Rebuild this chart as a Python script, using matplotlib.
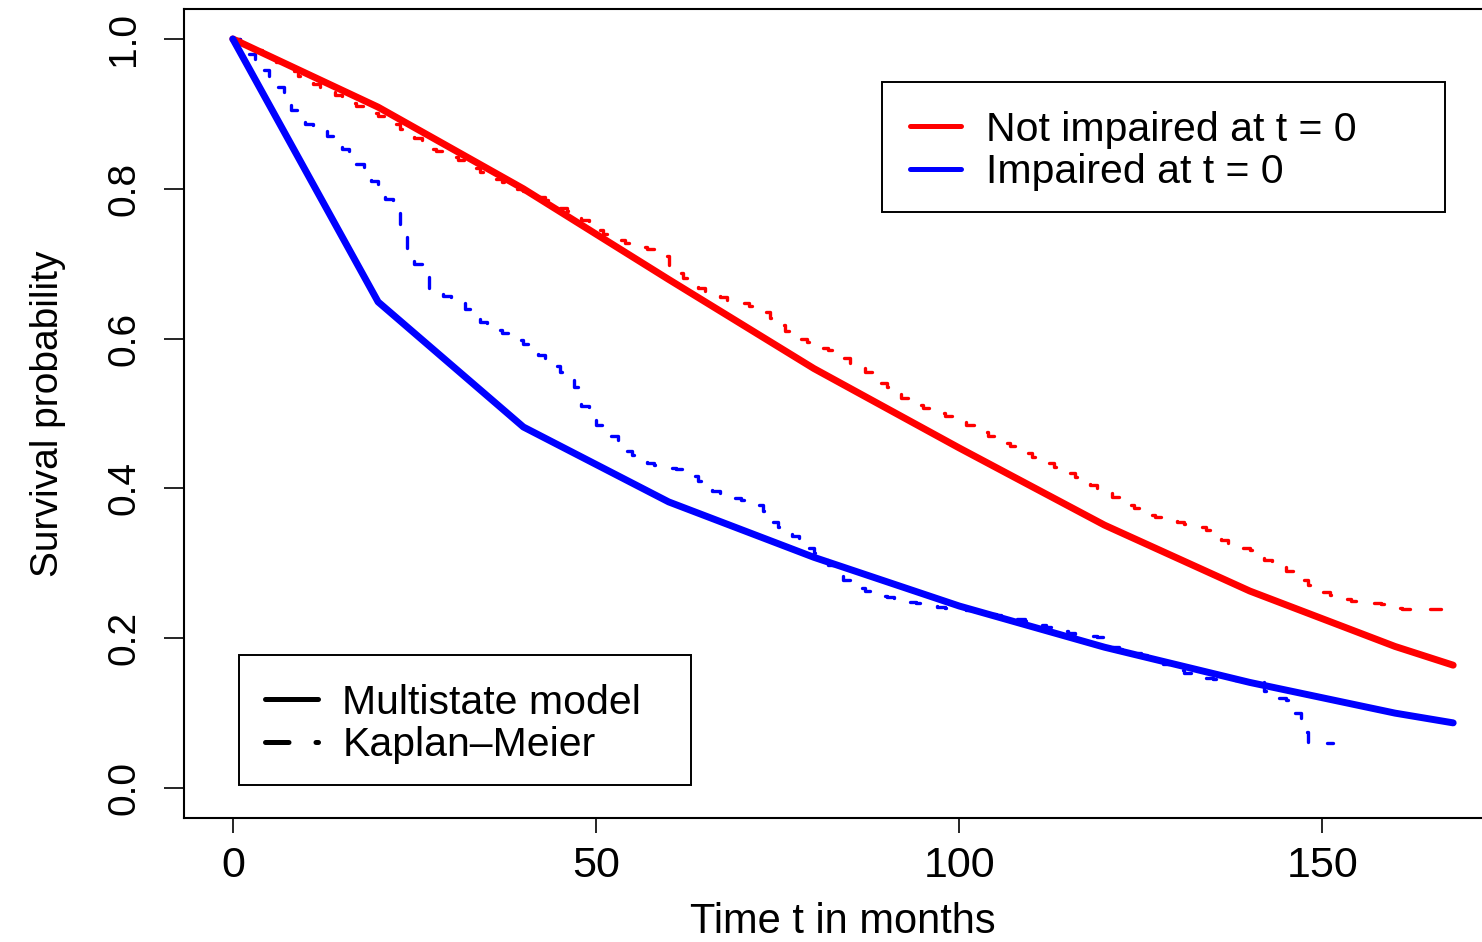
import matplotlib
matplotlib.use("Agg")
import matplotlib.pyplot as plt
from matplotlib.lines import Line2D
from matplotlib.patches import Rectangle

plt.rcParams['font.family'] = ['Liberation Sans', 'DejaVu Sans']

# ---- data ----
ms_time = [0, 20, 40, 60, 80, 100, 120, 140, 160, 168]
ms_not_impaired = [1.0, 0.909, 0.80, 0.679, 0.560, 0.454, 0.351, 0.263, 0.189, 0.164]
ms_impaired = [1.0, 0.649, 0.482, 0.382, 0.308, 0.243, 0.188, 0.141, 0.100, 0.087]

# Kaplan-Meier, not impaired (monthly readings, last point = end of follow-up)
km_not_time = list(range(0, 162)) + [168]
km_not_surv = [
    1.000, 0.995, 0.990, 0.985, 0.980, 0.975, 0.969, 0.963, 0.957, 0.951,
    0.945, 0.940, 0.935, 0.930, 0.925, 0.919, 0.914, 0.910, 0.905, 0.901,
    0.897, 0.892, 0.886, 0.880, 0.875, 0.868, 0.860, 0.853, 0.850, 0.846,
    0.842, 0.838, 0.833, 0.828, 0.823, 0.818, 0.813, 0.809, 0.804, 0.800,
    0.797, 0.793, 0.789, 0.785, 0.780, 0.775, 0.770, 0.765, 0.758, 0.752,
    0.745, 0.740, 0.736, 0.731, 0.727, 0.724, 0.722, 0.720, 0.715, 0.710,
    0.695, 0.688, 0.681, 0.674, 0.668, 0.664, 0.659, 0.655, 0.652, 0.650,
    0.648, 0.644, 0.640, 0.635, 0.627, 0.618, 0.610, 0.605, 0.600, 0.595,
    0.592, 0.588, 0.585, 0.579, 0.574, 0.568, 0.561, 0.555, 0.548, 0.541,
    0.535, 0.528, 0.521, 0.515, 0.512, 0.508, 0.505, 0.501, 0.497, 0.494,
    0.490, 0.485, 0.480, 0.475, 0.470, 0.465, 0.460, 0.456, 0.451, 0.447,
    0.442, 0.438, 0.434, 0.429, 0.425, 0.420, 0.415, 0.410, 0.405, 0.399,
    0.394, 0.388, 0.383, 0.378, 0.374, 0.369, 0.365, 0.362, 0.360, 0.357,
    0.355, 0.353, 0.350, 0.348, 0.345, 0.338, 0.331, 0.325, 0.323, 0.320,
    0.318, 0.311, 0.305, 0.300, 0.295, 0.290, 0.284, 0.278, 0.271, 0.265,
    0.262, 0.258, 0.255, 0.252, 0.250, 0.249, 0.248, 0.247, 0.246, 0.243,
    0.241, 0.239, 0.239,
]

# Kaplan-Meier, impaired (monthly readings, last point = end of follow-up)
km_imp_time = list(range(0, 152)) + [151.5]
km_imp_surv = [
    1.000, 0.990, 0.980, 0.968, 0.958, 0.948, 0.936, 0.922, 0.905, 0.892,
    0.886, 0.881, 0.877, 0.870, 0.862, 0.853, 0.843, 0.833, 0.823, 0.811,
    0.800, 0.786, 0.772, 0.745, 0.715, 0.700, 0.684, 0.668, 0.662, 0.657,
    0.652, 0.648, 0.640, 0.630, 0.622, 0.617, 0.612, 0.607, 0.603, 0.598,
    0.593, 0.587, 0.578, 0.570, 0.563, 0.556, 0.546, 0.535, 0.510, 0.492,
    0.485, 0.479, 0.470, 0.460, 0.450, 0.444, 0.438, 0.434, 0.431, 0.429,
    0.427, 0.426, 0.424, 0.417, 0.410, 0.403, 0.397, 0.393, 0.389, 0.387,
    0.385, 0.382, 0.378, 0.370, 0.355, 0.348, 0.342, 0.336, 0.328, 0.320,
    0.314, 0.308, 0.298, 0.288, 0.278, 0.271, 0.267, 0.263, 0.259, 0.257,
    0.255, 0.253, 0.251, 0.249, 0.247, 0.245, 0.243, 0.242, 0.241, 0.240,
    0.239, 0.238, 0.237, 0.235, 0.233, 0.231, 0.229, 0.227, 0.225, 0.223,
    0.221, 0.218, 0.215, 0.212, 0.209, 0.207, 0.205, 0.204, 0.203, 0.201,
    0.196, 0.188, 0.185, 0.183, 0.180, 0.177, 0.173, 0.170, 0.166, 0.162,
    0.158, 0.154, 0.151, 0.149, 0.147, 0.146, 0.145, 0.145, 0.144, 0.144,
    0.143, 0.143, 0.130, 0.120, 0.120, 0.118, 0.100, 0.075, 0.062, 0.060,
    0.060, 0.060, 0.060,
]

x_ticks = [0, 50, 100, 150]
y_ticks = [0.0, 0.2, 0.4, 0.6, 0.8, 1.0]
y_ticklabels = ["0.0", "0.2", "0.4", "0.6", "0.8", "1.0"]

group_labels = ["Not impaired at t = 0", "Impaired at t = 0"]
method_labels = ["Multistate model", "Kaplan\u2013Meier"]

RED = "#FF0000"
BLUE = "#0000FF"

W, H = 1482, 942
fig = plt.figure(figsize=(W / 100, H / 100), dpi=100)

def fx(px):
    return px / W

def fy(py):
    return 1 - py / H

ax = fig.add_axes([fx(184), fy(818), (1502 - 184) / W, (818 - 9) / H])
ax.set_xlim(-6.72, 174.72)
ax.set_ylim(-0.04, 1.04)

km_kw = dict(lw=2.4, dashes=(3.3, 6.0), dash_capstyle='round', dash_joinstyle='round')
ax.step(km_not_time, km_not_surv, where='post', color=RED, **km_kw)
ax.step(km_imp_time, km_imp_surv, where='post', color=BLUE, **km_kw)

ms_kw = dict(lw=5.0, solid_capstyle='round', solid_joinstyle='round')
ax.plot(ms_time, ms_not_impaired, color=RED, **ms_kw)
ax.plot(ms_time, ms_impaired, color=BLUE, **ms_kw)

for s in ax.spines.values():
    s.set_linewidth(1.5)

ax.set_xticks(x_ticks)
ax.set_xticklabels([str(v) for v in x_ticks])
ax.set_yticks(y_ticks)
ax.set_yticklabels(y_ticklabels)
ax.tick_params(axis='x', length=10.8, width=1.2, pad=9.4, labelsize=31)
ax.tick_params(axis='y', length=14.4, width=1.2, pad=15.5, labelsize=28, labelrotation=90)
for lab in ax.get_yticklabels():
    lab.set_va('center')

ax.set_xlabel("Time t in months", fontsize=30)
ax.xaxis.set_label_coords(0.5, (818 - 902) / 809)
ax.set_ylabel("Survival probability", fontsize=28)
ax.yaxis.set_label_coords((66 - 184) / 1318, 0.5)

leg_kw = dict(loc='center left', bbox_transform=fig.transFigure, frameon=False,
              fontsize=29.5, borderpad=0, borderaxespad=0,
              handletextpad=0.6, labelspacing=0.12)

# legend 1 (groups)
h1 = [Line2D([0], [0], color=RED, lw=3.6, solid_capstyle='round'),
      Line2D([0], [0], color=BLUE, lw=3.6, solid_capstyle='round')]
leg1 = ax.legend(h1, group_labels, bbox_to_anchor=(fx(909.5), fy(151)),
                 handlelength=1.26, **leg_kw)
ax.add_artist(leg1)

# legend 2 (methods)
h2 = [Line2D([0], [0], color='black', lw=3.6, solid_capstyle='round'),
      Line2D([0], [0], color='black', lw=3.6, dashes=(4.7, 5.4), dash_capstyle='round')]
leg2 = ax.legend(h2, method_labels, bbox_to_anchor=(fx(264.5), fy(724)),
                 handlelength=1.30, **leg_kw)

for (x0, y0, x1, y1) in [(882, 82, 1445, 212), (239, 655, 691, 785)]:
    fig.add_artist(Rectangle((fx(x0), fy(y1)), (x1 - x0) / W, (y1 - y0) / H,
                             transform=fig.transFigure, fill=False,
                             edgecolor='black', lw=1.4))

fig.savefig("out.png", dpi=100)
